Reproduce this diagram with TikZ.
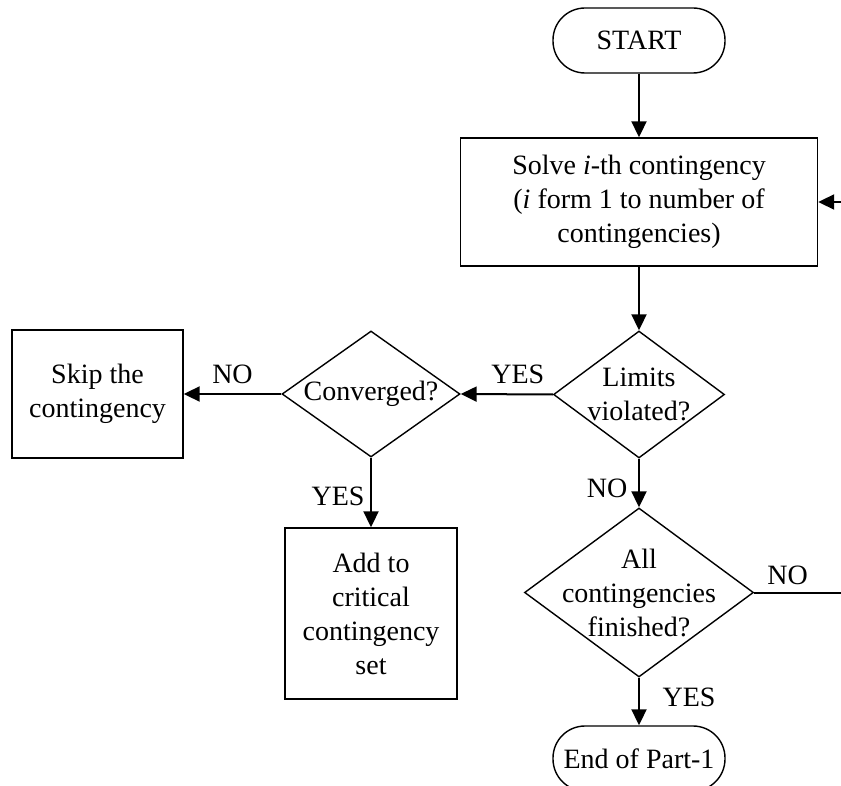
\documentclass[tikz,border=0pt]{standalone}
\usepackage{fontspec}
\setmainfont{Liberation Serif}
\usetikzlibrary{shapes.geometric,arrows.meta}
\begin{document}
\begin{tikzpicture}[x=1pt,y=-1pt,
  every node/.style={font=\fontsize{28}{34}\selectfont},
  box/.style={draw, line width=1.4pt, rectangle, align=center, inner sep=0pt},
  term/.style={draw, line width=1.4pt, rectangle, rounded corners=32pt, minimum width=172pt, minimum height=65pt, inner sep=0pt},
  decision/.style={draw, line width=1.4pt, diamond, inner sep=0pt},
  flow/.style={line width=2pt, -{Triangle[length=16pt,width=15pt]}},
  lbl/.style={inner sep=0pt}
]
\useasboundingbox (0,0) rectangle (841,786);
\clip (0,0) rectangle (841,786);

\node[term] (start) at (639,40.5) {START};
\node[box, minimum width=357pt, minimum height=128pt] (solve) at (639,202)
  {Solve \textit{i}-th contingency\\(\textit{i} form 1 to number of\\contingencies)};
\node[decision, minimum width=171pt, minimum height=127pt,
  label={[align=center]center:Limits\\violated?}] (limits) at (639,394.5) {};
\node[decision, minimum width=178pt, minimum height=126pt,
  label={center:Converged?}] (conv) at (371,394) {};
\node[box, minimum width=171pt, minimum height=128pt] (skip) at (97.5,394) {Skip the\\contingency};
\node[box, minimum width=172pt, minimum height=171pt] (add) at (371,613.5) {Add to\\critical\\contingency\\set};
\node[decision, minimum width=229pt, minimum height=169pt,
  label={[align=center]center:All\\contingencies\\finished?}] (all) at (639,592.5) {};
\node[term] (end) at (639,758.5) {End of Part-1};

\coordinate (loopA) at (880,592.5);
\coordinate (loopB) at (880,202);

\draw[flow] (start.south) -- (solve.north);
\draw[flow] (solve.south) -- (limits.north);
\draw[flow] (limits.west) -- node[lbl,pos=0.38,yshift=20pt] (yes1) {YES} (conv.east);
\draw[flow] (conv.west) -- node[lbl,pos=0.5,yshift=20pt] (no1) {NO} (skip.east);
\draw[flow] (conv.south) -- node[lbl,pos=0.55,xshift=-33pt] (yes2) {YES} (add.north);
\draw[flow] (limits.south) -- node[lbl,pos=0.62,xshift=-32pt] (no2) {NO} (all.north);
\draw[flow] (all.south) -- node[lbl,pos=0.42,xshift=50pt] (yes3) {YES} (end.north);
\draw[flow] (all.east) -- node[lbl,pos=0.265,yshift=17pt] (no3) {NO} (loopA) -- (loopB) -- (solve.east);
\end{tikzpicture}
\end{document}
